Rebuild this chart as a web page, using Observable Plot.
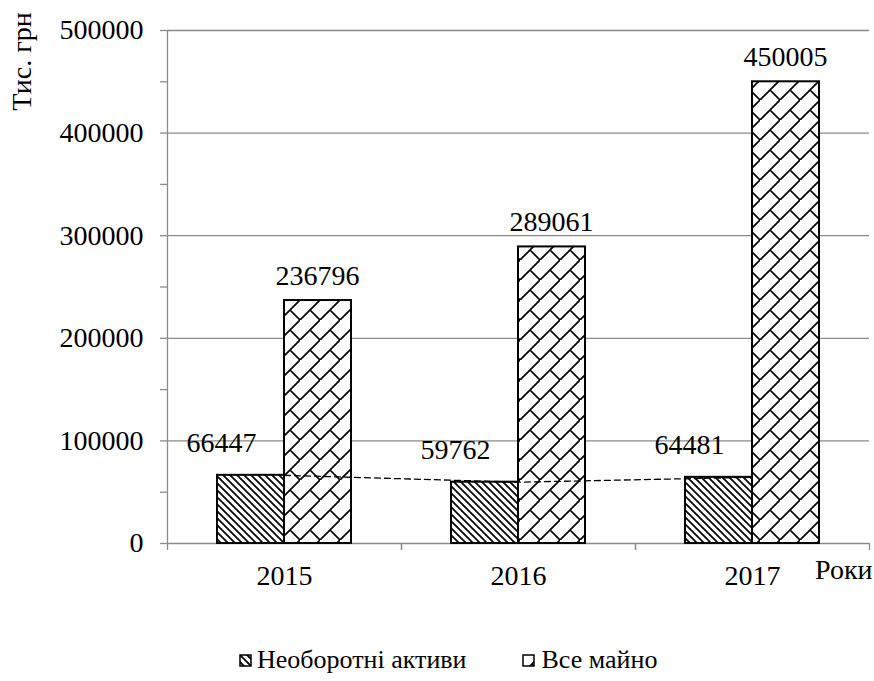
<!DOCTYPE html>
<html>
<head>
<meta charset="utf-8">
<script src="https://cdn.jsdelivr.net/npm/d3@7"></script>
<script src="https://cdn.jsdelivr.net/npm/@observablehq/plot@0.6"></script>
<style>
  body { margin: 0; background: #fff; font-family: "Liberation Serif", "Times New Roman", serif; color: #000; }
  #legend { display: flex; align-items: center; height: 40px; margin-top: 30px; padding-left: 239px; font-size: 26px; }
  #legend span { margin-left: 5px; }
</style>
</head>
<body>
<div id="chart"></div>
<div id="legend"></div>
<script>
// ---- data ----
const years = ["2015", "2016", "2017"];
const nonCurrentAssets = [66447, 59762, 64481];   // Необоротні активи
const totalProperty = [236796, 289061, 450005];   // Все майно
const seriesNames = ["Необоротні активи", "Все майно"];
const yMajorTicks = [0, 100000, 200000, 300000, 400000, 500000];
const yMinorTicks = [0, 50000, 100000, 150000, 200000, 250000, 300000, 350000, 400000, 450000, 500000];
const yAxisTitle = "Тис. грн";
const xAxisTitle = "Роки";

const nonCurrentRows = years.map((year, i) => ({year, series: seriesNames[0], value: nonCurrentAssets[i]}));
const totalRows = years.map((year, i) => ({year, series: seriesNames[1], value: totalProperty[i]}));

const gray = "#8a8a8a";

const chart = Plot.plot({
  width: 874,
  height: 610,
  marginLeft: 167,
  marginRight: 5,
  marginTop: 30,
  marginBottom: 67,
  style: {fontFamily: "'Liberation Serif', 'Times New Roman', serif", fontSize: "28px", color: "#000", background: "#fff"},
  x: {domain: years, padding: 0, label: null},
  y: {domain: [0, 500000], label: null},
  marks: [
    Plot.gridY(yMajorTicks, {stroke: gray, strokeOpacity: 1, strokeWidth: 1.3}),
    Plot.ruleX([years[0]], {dx: -117, stroke: gray, strokeWidth: 1.3}),
    Plot.axisY({ticks: yMinorTicks, tickSize: 7, tickFormat: () => "", stroke: gray, strokeWidth: 1.3, label: null}),
    Plot.axisY({ticks: yMajorTicks, tickSize: 0, tickPadding: 24, tickFormat: d => String(d), fill: "#000", label: null}),
    Plot.axisX({ticks: years, tickSize: 7, tickFormat: () => "", dx: -117, stroke: gray, strokeWidth: 1.3, label: null}),
    Plot.axisX({ticks: years, tickSize: 7, tickFormat: () => "", dx: 117, stroke: gray, strokeWidth: 1.3, label: null}),
    Plot.axisX({ticks: years, tickSize: 0, tickPadding: 22, fill: "#000", label: null}),
    Plot.barY(nonCurrentRows, {x: "year", y: "value", fill: "url(#hatchNC)", stroke: "#000", strokeWidth: 2, insetLeft: 50, insetRight: 117}),
    Plot.barY(totalRows, {x: "year", y: "value", fill: "url(#brickTP)", stroke: "#000", strokeWidth: 2, insetLeft: 117, insetRight: 50}),
    Plot.line(nonCurrentRows, {x: "year", y: "value", stroke: "#000", strokeWidth: 1.3, strokeDasharray: "6,4"}),
    Plot.text(nonCurrentRows, {x: "year", y: "value", text: d => String(d.value), dx: -63, dy: -32, fill: "#000"}),
    Plot.text(totalRows, {x: "year", y: "value", text: d => String(d.value), dx: 33, dy: -25, fill: "#000"}),
    Plot.text([xAxisTitle], {frameAnchor: "bottom-right", textAnchor: "end", dx: 3, dy: 35, fill: "#000"}),
    Plot.text([yAxisTitle], {frameAnchor: "top-left", rotate: -90, textAnchor: "middle", dx: -156, dy: 31, fontSize: 28, fill: "#000"})
  ]
});

// patterns
const defs = d3.select(chart).insert("defs", ":first-child");
const hatch = defs.append("pattern").attr("id", "hatchNC").attr("patternUnits", "userSpaceOnUse").attr("width", 7).attr("height", 7);
hatch.append("rect").attr("width", 7).attr("height", 7).attr("fill", "#fff");
hatch.append("path").attr("d", "M-2,-2L9,9M-2,5L2,9M5,-2L9,2").attr("stroke", "#000").attr("stroke-width", 1.7).attr("fill", "none");
const brick = defs.append("pattern").attr("id", "brickTP").attr("patternUnits", "userSpaceOnUse").attr("width", 20).attr("height", 20);
brick.append("rect").attr("width", 20).attr("height", 20).attr("fill", "#fff");
brick.append("path").attr("d", "M-2,22L22,-2M10,10L20,20").attr("stroke", "#000").attr("stroke-width", 1.7).attr("fill", "none");

document.getElementById("chart").appendChild(chart);

// legend
const legend = document.getElementById("legend");
const fills = ["url(#hatchNC)", "url(#brickTP)"];
seriesNames.forEach((name, i) => {
  const ns = "http://www.w3.org/2000/svg";
  const s = document.createElementNS(ns, "svg");
  s.setAttribute("width", 13); s.setAttribute("height", 13);
  if (i > 0) s.style.marginLeft = "55px";
  const r = document.createElementNS(ns, "rect");
  r.setAttribute("x", 1); r.setAttribute("y", 1); r.setAttribute("width", 11); r.setAttribute("height", 11);
  r.setAttribute("fill", fills[i]); r.setAttribute("stroke", "#000"); r.setAttribute("stroke-width", 1.5);
  s.appendChild(r);
  legend.appendChild(s);
  const t = document.createElement("span");
  t.textContent = name;
  if (i > 0) t.style.marginLeft = "7px";
  legend.appendChild(t);
});
</script>
</body>
</html>
